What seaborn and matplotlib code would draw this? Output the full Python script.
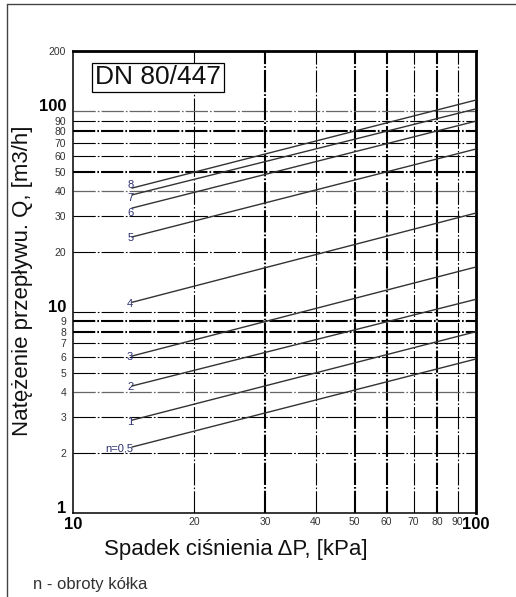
import matplotlib
matplotlib.use('Agg')
import matplotlib.pyplot as plt
from matplotlib.lines import Line2D
from matplotlib.ticker import NullLocator
import pandas as pd
import seaborn as sns

sns.set_style('white')
plt.rcParams['font.family'] = ['Liberation Sans', 'DejaVu Sans']
plt.rcParams['lines.scale_dashes'] = False

# nastawy (obroty kolka) - odczyt Q na poczatku i koncu kazdej charakterystyki
n_labels = ['n=0,5', '1', '2', '3', '4', '5', '6', '7', '8']
dp_start = [14, 14, 14, 14, 14, 14, 14, 14, 14]
dp_end = [100, 100, 100, 100, 100, 100, 100, 100, 100]
q_start = [2.13, 2.90, 4.29, 6.05, 11.2, 23.7, 33.0, 38.4, 41.5]
q_end = [5.85, 8.0, 11.6, 16.8, 31.2, 65.0, 89.5, 103.0, 114.0]

x_major = [10, 100]
x_minor = [20, 30, 40, 50, 60, 70, 80, 90]
y_major = [1, 10, 100]
y_minor = [2, 3, 4, 5, 6, 7, 8, 9, 20, 30, 40, 50, 60, 70, 80, 90, 200]

x_grid_thick = [30, 50, 60, 80]
x_grid_thin = [20, 40, 70, 90]
y_grid_thick = [8, 9, 50, 80]
y_grid_thin = [2, 3, 5, 6, 7, 10, 20, 30, 60, 70, 90]
y_grid_grey = [4, 40, 100]

rows = []
for i in range(len(n_labels)):
    rows.append({'n': n_labels[i], 'dp': dp_start[i], 'q': q_start[i]})
    rows.append({'n': n_labels[i], 'dp': dp_end[i], 'q': q_end[i]})
df = pd.DataFrame(rows)

fig = plt.figure(figsize=(5.16, 5.97), dpi=100)
ax = fig.add_axes([73/516, 1-513/597, 403/516, 462/597])
ax.set_xscale('log')
ax.set_yscale('log')
ax.set_xlim(10, 100)
ax.set_ylim(1, 200)

dd = (0, (16, 1.5, 1.2, 1.5))
for v in x_grid_thick:
    ax.axvline(v, color='black', lw=1.5, ls=dd, zorder=1)
for v in x_grid_thin:
    ax.axvline(v, color='black', lw=0.8, ls=dd, zorder=1)
for v in y_grid_thick:
    ax.axhline(v, color='black', lw=1.5, ls=dd, zorder=1)
for v in y_grid_thin:
    ax.axhline(v, color='black', lw=0.8, ls=dd, zorder=1)
for v in y_grid_grey:
    ax.axhline(v, color='#666666', lw=0.9, ls=dd, zorder=1)

sns.lineplot(data=df, x='dp', y='q', units='n', estimator=None, color='#333333',
             lw=1.0, ax=ax, legend=False, zorder=3)

# lines 6, 7 and 8 start close together, spread their labels a bit
for i in range(len(n_labels)):
    dy = -1
    if n_labels[i] == '8':
        dy = 2
    elif n_labels[i] == '7':
        dy = -2.5
    elif n_labels[i] == '6':
        dy = -3.5
    ax.annotate(n_labels[i], (dp_start[i], q_start[i]), xytext=(1, dy),
                textcoords='offset points', ha='right', va='center',
                fontsize=8, color='#2b3070', zorder=4)

ax.set_xticks(x_major + x_minor, [str(v) for v in x_major + x_minor])
ax.set_yticks(y_major + y_minor, [str(v) for v in y_major + y_minor])
ax.xaxis.set_minor_locator(NullLocator())
ax.yaxis.set_minor_locator(NullLocator())
ax.tick_params(axis='both', length=0)
ax.tick_params(axis='x', pad=3)
ax.tick_params(axis='y', pad=5)
for lab in ax.get_xticklabels() + ax.get_yticklabels():
    if lab.get_text() in [str(v) for v in y_major]:
        lab.set_fontsize(12)
        lab.set_fontweight('bold')
        lab.set_color('black')
    else:
        lab.set_fontsize(7.5)
        lab.set_color('#333333')
for lab in ax.get_yticklabels():
    if lab.get_text() in [str(v) for v in y_major]:
        lab.set_verticalalignment('baseline')

ax.set_xlabel('')
ax.set_ylabel('')
for side in ['top', 'right']:
    ax.spines[side].set_linewidth(2.0)
for side in ['left', 'bottom']:
    ax.spines[side].set_linewidth(1.1)
for side in ax.spines:
    ax.spines[side].set_color('black')

ax.text(95/403 - 73/403, (513-77.5)/462, 'DN 80/447', transform=ax.transAxes,
        ha='left', va='center', fontsize=19, color='#111111', zorder=5,
        bbox=dict(boxstyle='square,pad=0.1', fc='white', ec='black', lw=0.9))

fig.text(236/516, 1-550/597, 'Spadek ciśnienia ΔP, [kPa]', ha='center', va='center',
         fontsize=16, color='#111111')
fig.text(23/516, 1-281/597, 'Natężenie przepływu. Q, [m3/h]', ha='center', va='center',
         rotation=90, fontsize=16, color='#111111')
fig.text(33/516, 1-585/597, 'n - obroty kółka', ha='left', va='center',
         fontsize=12, color='#333333')

fig.add_artist(Line2D([7/516, 7/516], [0, 1-4/597], transform=fig.transFigure,
                      color='#444444', lw=1.0))
fig.add_artist(Line2D([7/516, 1], [1-4/597, 1-4/597], transform=fig.transFigure,
                      color='#444444', lw=1.0))

plt.savefig('out.png', dpi=100)
